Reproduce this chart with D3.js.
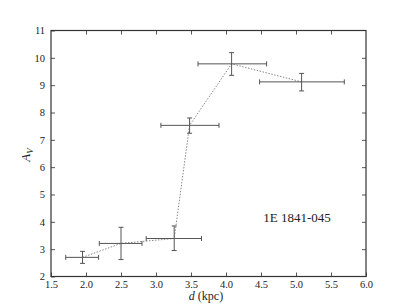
<!DOCTYPE html>
<html>
<head>
<meta charset="utf-8">
<script src="https://cdn.jsdelivr.net/npm/d3@7"></script>
<style>
  body { margin: 0; background: white; }
</style>
</head>
<body>
<svg id="chart" width="407" height="307"></svg>
<script>
// distances (kpc) with horizontal error range
const dist = [1.95, 2.50, 3.26, 3.48, 4.08, 5.08];
const distLo = [1.71, 2.19, 2.86, 3.07, 3.60, 4.48];
const distHi = [2.18, 2.80, 3.65, 3.90, 4.58, 5.69];
// extinction A_V with vertical error range
const av = [2.70, 3.21, 3.39, 7.53, 9.78, 9.12];
const avLo = [2.48, 2.62, 2.95, 7.24, 9.36, 8.79];
const avHi = [2.92, 3.80, 3.85, 7.80, 10.19, 9.43];

const xTicks = [1.5, 2.0, 2.5, 3.0, 3.5, 4.0, 4.5, 5.0, 5.5, 6.0];
const yTicks = [2, 3, 4, 5, 6, 7, 8, 9, 10, 11];

const serif = "'Liberation Serif', 'Times New Roman', serif";
const svg = d3.select("#chart");
const box = { left: 51, right: 366, top: 30.5, bottom: 276.5 };

const x = d3.scaleLinear().domain([1.5, 6.0]).range([box.left, box.right]);
const y = d3.scaleLinear().domain([2, 11]).range([box.bottom, box.top]);

const points = dist.map((d, i) => ({
  d: d, dlo: distLo[i], dhi: distHi[i],
  a: av[i], alo: avLo[i], ahi: avHi[i]
}));

// axes, ticks pointing inward
const axisColor = "#333";
function styleAxis(sel) {
  sel.attr("font-family", serif);
  sel.select(".domain").remove();
  sel.selectAll(".tick line").attr("stroke", "#555");
  sel.selectAll(".tick text")
    .style("font-family", serif)
    .style("font-size", "10.5px")
    .attr("fill", "#222");
}

svg.append("g")
  .attr("transform", "translate(0," + box.bottom + ")")
  .call(d3.axisBottom(x).tickValues(xTicks).tickFormat(d3.format(".1f"))
    .tickSizeInner(-4).tickSizeOuter(0).tickPadding(4))
  .call(styleAxis);

svg.append("g")
  .attr("transform", "translate(0," + box.top + ")")
  .call(d3.axisTop(x).tickValues(xTicks.slice(1, -1)).tickFormat("")
    .tickSizeInner(-4).tickSizeOuter(0))
  .call(styleAxis);

svg.append("g")
  .attr("transform", "translate(" + box.left + ",0)")
  .call(d3.axisLeft(y).tickValues(yTicks).tickFormat(d3.format("d"))
    .tickSizeInner(-4).tickSizeOuter(0).tickPadding(6))
  .call(styleAxis);

svg.append("g")
  .attr("transform", "translate(" + box.right + ",0)")
  .call(d3.axisRight(y).tickValues(yTicks.slice(1, -1)).tickFormat("")
    .tickSizeInner(-4).tickSizeOuter(0))
  .call(styleAxis);

// frame
svg.append("rect")
  .attr("x", box.left).attr("y", box.top)
  .attr("width", box.right - box.left).attr("height", box.bottom - box.top)
  .attr("fill", "none").attr("stroke", axisColor).attr("stroke-width", 1.2);

// dotted connecting line
const line = d3.line().x(p => x(p.d)).y(p => y(p.a));
svg.append("path")
  .datum(points)
  .attr("d", line)
  .attr("fill", "none")
  .attr("stroke", "#888")
  .attr("stroke-width", 1)
  .attr("stroke-dasharray", "1.5,1.5");

// error bars
const eb = svg.append("g").attr("stroke", "#555").attr("stroke-width", 1);
const cap = 2.5;
points.forEach(p => {
  eb.append("line").attr("x1", x(p.dlo)).attr("x2", x(p.dhi))
    .attr("y1", y(p.a)).attr("y2", y(p.a));
  eb.append("line").attr("x1", x(p.dlo)).attr("x2", x(p.dlo))
    .attr("y1", y(p.a) - cap).attr("y2", y(p.a) + cap);
  eb.append("line").attr("x1", x(p.dhi)).attr("x2", x(p.dhi))
    .attr("y1", y(p.a) - cap).attr("y2", y(p.a) + cap);
  eb.append("line").attr("x1", x(p.d)).attr("x2", x(p.d))
    .attr("y1", y(p.alo)).attr("y2", y(p.ahi));
  eb.append("line").attr("x1", x(p.d) - cap).attr("x2", x(p.d) + cap)
    .attr("y1", y(p.alo)).attr("y2", y(p.alo));
  eb.append("line").attr("x1", x(p.d) - cap).attr("x2", x(p.d) + cap)
    .attr("y1", y(p.ahi)).attr("y2", y(p.ahi));
});

// axis titles
const yl = svg.append("text")
  .attr("transform", "translate(30,155) rotate(-90)")
  .attr("text-anchor", "middle")
  .style("font-family", serif)
  .style("font-size", "13px")
  .attr("fill", "#222");
yl.append("tspan").style("font-style", "italic").text("A");
yl.append("tspan").attr("dy", 3).style("font-size", "9px").style("font-style", "italic").text("V");

const xl = svg.append("text")
  .attr("x", 206).attr("y", 300)
  .attr("text-anchor", "middle")
  .style("font-family", serif)
  .style("font-size", "12px")
  .attr("fill", "#222");
xl.append("tspan").style("font-style", "italic").text("d");
xl.append("tspan").text(" (kpc)");

// source label
svg.append("text")
  .attr("x", 297).attr("y", 222)
  .attr("text-anchor", "middle")
  .style("font-family", serif)
  .style("font-size", "13px")
  .attr("fill", "#222")
  .text("1E 1841-045");
</script>
</body>
</html>
